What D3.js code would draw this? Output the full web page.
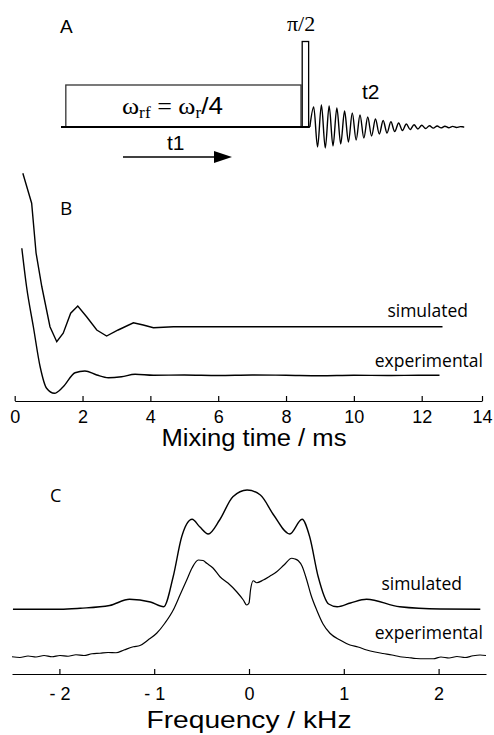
<!DOCTYPE html>
<html><head><meta charset="utf-8">
<script src="https://cdn.jsdelivr.net/npm/d3@7"></script>
<style>body{margin:0;background:#fff}svg{display:block}</style>
</head><body><svg id="c" width="494" height="735"></svg>
<script>
// ---------- Panel A : pulse sequence (arbitrary time units) ----------
const seqBlocks = [
  {name: "mix",   start: 1.2,  end: 59.7, height: 42},
  {name: "pulse", start: 60.0, end: 61.6, height: 85.5}
];
const fidStart = 61.9;
const fidHalfPeriod = 0.96;
const fidAmp = [0, 20, -20, 22, -21, 21, -19, 19, -17, 16, -15, 14, -13, 12, -11, 10, -9, 8, -7, 6.5,
  -6, 5.2, -4.6, 4, -3.5, 3, -2.6, 2.3, -2, 1.7, -1.5, 1.3, -1.1, 1, -0.9, 0.8, -0.7, 0.6, -0.5, 0.4, 0];

// ---------- Panel B : mixing-time curves ----------
const bTicks = [0, 2, 4, 6, 8, 10, 12, 14];
const bSimTime = [0.24, 0.50, 0.63, 0.80, 1.04, 1.24, 1.43, 1.65, 1.86, 2.12, 2.42, 2.71, 3.05, 3.50, 3.79, 4.09, 4.68, 12.69];
const bSimVal  = [91.1, 79.1, 59.2, 45.7, 29.7, 23.7, 27.1, 35.1, 38.0, 33.7, 28.4, 26.0, 28.4, 31.3, 30.4, 29.3, 29.7, 29.7];
const bExpTime = [0.21, 0.35, 0.55, 0.75, 0.94, 1.17, 1.43, 1.78, 2.07, 2.42, 2.76, 3.15, 3.55, 4.09, 5.0, 6.0, 7.0, 8.0, 9.0, 10.0, 11.0, 12.0, 12.59];
const bExpVal  = [61.1, 45.7, 29.7, 13.7, 5.1, 3.1, 5.7, 11.3, 12.0, 10.4, 9.3, 9.7, 10.7, 10.3, 10.4, 10.2, 10.4, 10.3, 10.1, 10.3, 10.2, 10.3, 10.3];

// ---------- Panel C : spectra ----------
const cTicks = [-2, -1, 0, 1, 2];
const cSimFreq = [-2.49, -1.99, -1.78, -1.47, -1.26, -1.04, -0.90, -0.80, -0.71, -0.60, -0.52, -0.43, -0.31, -0.17, -0.02, 0.12, 0.26, 0.43, 0.56, 0.64, 0.73, 0.84, 0.93, 1.07, 1.24, 1.59, 2.02, 2.44];
const cSimVal  = [25.9, 25.9, 26.3, 27.4, 29.9, 28.8, 26.9, 38.9, 54.9, 61.9, 58.9, 56.0, 61.6, 70.9, 73.6, 71.6, 63.6, 56.0, 61.9, 54.9, 38.9, 28.0, 26.9, 28.4, 29.9, 26.9, 26.0, 25.9];
const cExpFreq = [-2.5, -2.416, -2.331, -2.247, -2.162, -2.078, -1.994, -1.909, -1.825, -1.741, -1.656, -1.572, -1.487, -1.403, -1.319, -1.22, -1.15, -1.065, -0.974, -0.886, -0.799, -0.728, -0.657, -0.601, -0.535, -0.485, -0.446, -0.38, -0.306, -0.222, -0.13, -0.06, -0.024, 0.0, 0.016, 0.045, 0.081, 0.151, 0.222, 0.292, 0.369, 0.45, 0.485, 0.52, 0.559, 0.609, 0.654, 0.714, 0.781, 0.854, 0.96, 1.065, 1.15, 1.242, 1.329, 1.414, 1.508, 1.593, 1.677, 1.762, 1.857, 1.944, 2.025, 2.11, 2.194, 2.278, 2.363, 2.437, 2.5];
const cExpVal  = [6.9, 6.6, 7.2, 6.8, 7.4, 6.9, 7.4, 7.1, 7.7, 7.4, 8.1, 8.3, 8.6, 8.5, 9.6, 10.9, 11.4, 13.6, 16.3, 20.4, 25.6, 31.6, 37.6, 42.4, 45.6, 45.4, 44.3, 42.4, 38.9, 36.4, 32.9, 29.6, 27.6, 28.4, 33.6, 37.3, 36.5, 37.6, 39.2, 40.9, 43.6, 46.3, 46.0, 45.3, 43.2, 37.6, 31.6, 25.6, 20.0, 16.3, 13.6, 11.6, 10.8, 9.6, 8.8, 8.2, 7.6, 6.9, 6.6, 6.2, 6.1, 6.1, 6.8, 6.4, 7.0, 6.6, 7.3, 7.6, 7.4];

const svg = d3.select("#c");
const SANS = "'Liberation Sans', Arial, sans-serif";
const HUM = "'Open Sans', 'Noto Sans', sans-serif";
const SERIF = "'Liberation Serif', 'Times New Roman', serif";
const LW = 1.4;

// ===== Panel A =====
const xA = d3.scaleLinear().domain([0, 100]).range([61, 463]);
const yA = d3.scaleLinear().domain([0, 100]).range([127, 27]);
const gA = svg.append("g");
const fidPts = fidAmp.map((a, i) => [fidStart + i * fidHalfPeriod, a]);
fidPts.push([100, 0]);
gA.append("path").datum(fidPts)
  .attr("fill", "none").attr("stroke", "#000").attr("stroke-width", 1.4)
  .attr("d", d3.line().x(d => xA(d[0])).y(d => yA(d[1])).curve(d3.curveMonotoneX));
gA.selectAll("rect.blk").data(seqBlocks).join("rect")
  .attr("x", d => xA(d.start)).attr("y", d => yA(d.height))
  .attr("width", d => xA(d.end) - xA(d.start)).attr("height", d => yA(0) - yA(d.height))
  .attr("fill", "#fff").attr("stroke", d => d.name === "mix" ? "#333" : "#000").attr("stroke-width", 1.3);
gA.append("line").attr("x1", xA(0)).attr("x2", xA(fidStart)).attr("y1", yA(0)).attr("y2", yA(0))
  .attr("stroke", "#000").attr("stroke-width", 2);
gA.append("text").attr("x", 60).attr("y", 33).attr("font-family", SANS).attr("font-size", 19).text("A");
gA.append("text").attr("x", 287).attr("y", 31).attr("font-family", SERIF).attr("font-size", 22).text("π/2");
const om = gA.append("text").attr("x", 122).attr("y", 114).attr("font-family", SERIF).attr("font-size", 24)
  .attr("textLength", 101).attr("lengthAdjust", "spacingAndGlyphs");
om.append("tspan").text("ω");
om.append("tspan").attr("font-size", 16).attr("dy", 4).text("rf");
om.append("tspan").attr("dy", -4).text(" = ω");
om.append("tspan").attr("font-size", 16).attr("dy", 4).text("r");
om.append("tspan").attr("dy", -4).attr("font-family", SANS).text("/4");
gA.append("text").attr("x", 167).attr("y", 150).attr("font-family", SANS).attr("font-size", 21).text("t1");
gA.append("text").attr("x", 362).attr("y", 99).attr("font-family", SANS).attr("font-size", 21).text("t2");
gA.append("line").attr("x1", 123).attr("x2", 216).attr("y1", 157).attr("y2", 157).attr("stroke", "#000").attr("stroke-width", 1.6);
gA.append("path").attr("d", "M214,151 L232,157 L214,163 Z").attr("fill", "#000");

// ===== Panel B =====
const xB = d3.scaleLinear().domain([0, 12, 14]).range([14.7, 421.7, 482]);
const yB = d3.scaleLinear().domain([0, 100]).range([401, 151]);
const gB = svg.append("g");
const lineB = d3.line().x(d => xB(d[0])).y(d => yB(d[1]));
gB.append("path").datum(bSimTime.map((t, i) => [t, bSimVal[i]]))
  .attr("fill", "none").attr("stroke", "#000").attr("stroke-width", LW).attr("d", lineB);
gB.append("path").datum(bExpTime.map((t, i) => [t, bExpVal[i]]))
  .attr("fill", "none").attr("stroke", "#000").attr("stroke-width", LW).attr("d", lineB.curve(d3.curveMonotoneX));
const axB = gB.append("g").attr("transform", `translate(0,${yB(0)})`)
  .call(d3.axisBottom(xB).tickValues(bTicks).tickSizeInner(-5).tickSizeOuter(0).tickPadding(9));
axB.select(".domain").attr("stroke-width", 1.2);
axB.selectAll(".tick line").attr("stroke-width", 1.2);
axB.selectAll(".tick text").attr("font-family", SANS).attr("font-size", 18).attr("fill", "#000");
gB.append("text").attr("x", 254).attr("y", 446).attr("text-anchor", "middle").attr("font-family", SANS).attr("font-size", 23)
  .attr("textLength", 185).attr("lengthAdjust", "spacingAndGlyphs").text("Mixing time / ms");
gB.append("text").attr("x", 60).attr("y", 215).attr("font-family", HUM).attr("font-size", 19).text("B");
gB.append("text").attr("x", 468).attr("y", 317).attr("text-anchor", "end").attr("font-family", HUM).attr("font-size", 17.5).text("simulated");
gB.append("text").attr("x", 483).attr("y", 367).attr("text-anchor", "end").attr("font-family", HUM).attr("font-size", 17.5).text("experimental");

// ===== Panel C =====
const xC = d3.scaleLinear().domain([-2.5, 2.5]).range([12, 486]);
const yC = d3.scaleLinear().domain([0, 100]).range([674, 424]);
const gC = svg.append("g");
const lineC = d3.line().x(d => xC(d[0])).y(d => yC(d[1])).curve(d3.curveMonotoneX);
gC.append("path").datum(cSimFreq.map((f, i) => [f, cSimVal[i]]))
  .attr("fill", "none").attr("stroke", "#000").attr("stroke-width", LW).attr("d", lineC);
gC.append("path").datum(cExpFreq.map((f, i) => [f, cExpVal[i]]))
  .attr("fill", "none").attr("stroke", "#000").attr("stroke-width", 1.2).attr("d", lineC);
const axC = gC.append("g").attr("transform", `translate(0,${yC(0)})`)
  .call(d3.axisBottom(xC).tickValues(cTicks).tickSizeInner(-5).tickSizeOuter(0).tickPadding(13)
    .tickFormat(d => d < 0 ? "- " + Math.abs(d) : String(d)));
axC.select(".domain").attr("stroke-width", 1.2);
axC.selectAll(".tick line").attr("stroke-width", 1.2);
axC.selectAll(".tick text").attr("font-family", SANS).attr("font-size", 18).attr("fill", "#000").style("white-space", "pre");
gC.append("text").attr("x", 249).attr("y", 728).attr("text-anchor", "middle").attr("font-family", SANS).attr("font-size", 24)
  .attr("textLength", 205).attr("lengthAdjust", "spacingAndGlyphs").text("Frequency / kHz");
gC.append("text").attr("x", 50).attr("y", 502).attr("font-family", HUM).attr("font-size", 18).text("C");
gC.append("text").attr("x", 462).attr("y", 590).attr("text-anchor", "end").attr("font-family", HUM).attr("font-size", 17.5).text("simulated");
gC.append("text").attr("x", 483).attr("y", 639).attr("text-anchor", "end").attr("font-family", HUM).attr("font-size", 17.5).text("experimental");
</script>
</body></html>
